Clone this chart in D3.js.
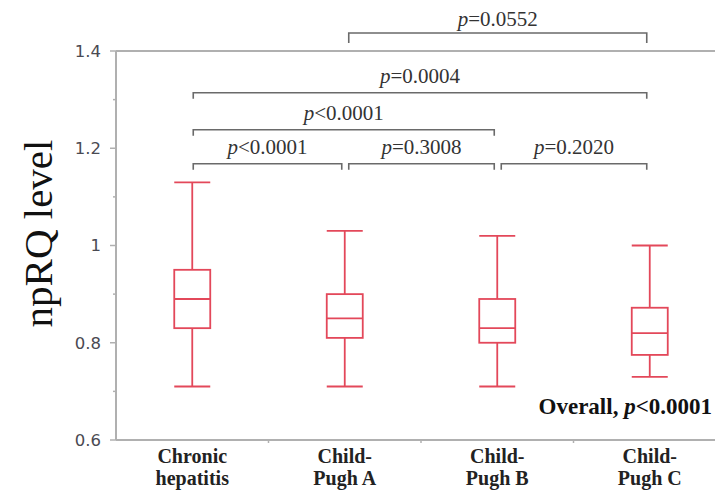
<!DOCTYPE html>
<html>
<head>
<meta charset="utf-8">
<script src="https://cdn.jsdelivr.net/npm/d3@7"></script>
<style>
  body { margin: 0; background: #fff; }
  svg { display: block; }
  .serif { font-family: "Liberation Serif", "DejaVu Serif", serif; }
</style>
</head>
<body>
<svg id="chart"></svg>
<script>
// groups and box statistics
const categories = ["Chronic hepatitis", "Child-Pugh A", "Child-Pugh B", "Child-Pugh C"];
const labelLines = [["Chronic", "hepatitis"], ["Child-", "Pugh A"], ["Child-", "Pugh B"], ["Child-", "Pugh C"]];
const whiskerLow = [0.71, 0.71, 0.71, 0.73];
const q1 = [0.83, 0.81, 0.80, 0.775];
const median = [0.89, 0.85, 0.83, 0.82];
const q3 = [0.95, 0.90, 0.89, 0.872];
const whiskerHigh = [1.13, 1.03, 1.02, 1.00];

const yTicks = [0.6, 0.8, 1.0, 1.2, 1.4];
const yMinorTicks = [0.7, 0.9, 1.1, 1.3];

// significance brackets: from group, to group, level, label
const bracketFrom = [1, 0, 0, 0, 1, 2];
const bracketTo = [3, 3, 2, 1, 2, 3];
const bracketLevel = [1.437, 1.314, 1.238, 1.168, 1.168, 1.168];
const bracketOp = ["=", "=", "<", "<", "=", "="];
const bracketValue = ["0.0552", "0.0004", "0.0001", "0.0001", "0.3008", "0.2020"];

const W = 715, H = 494;
const plotLeft = 116, plotTop = 51, plotBottom = 440;

const svg = d3.select("#chart").attr("width", W).attr("height", H);

const x = d3.scaleBand().domain(categories).range([plotLeft, 726]);
const y = d3.scaleLinear().domain([0.6, 1.4]).range([plotBottom, plotTop]);

const red = "#e3485a";
const axisColor = "#b0b0b0";
const bracketColor = "#6a6a6a";

// axes
svg.append("line")
    .attr("x1", plotLeft).attr("x2", W)
    .attr("y1", y(1.4)).attr("y2", y(1.4))
    .attr("stroke", axisColor).attr("stroke-width", 2);
svg.append("line")
    .attr("x1", plotLeft).attr("x2", W)
    .attr("y1", y(0.6)).attr("y2", y(0.6))
    .attr("stroke", axisColor).attr("stroke-width", 2);
svg.append("line")
    .attr("x1", plotLeft).attr("x2", plotLeft)
    .attr("y1", y(1.4)).attr("y2", y(0.6))
    .attr("stroke", axisColor).attr("stroke-width", 2);

svg.selectAll(".ytick")
    .data(yTicks)
    .enter()
    .append("line")
    .attr("x1", plotLeft - 6).attr("x2", plotLeft)
    .attr("y1", d => y(d)).attr("y2", d => y(d))
    .attr("stroke", axisColor).attr("stroke-width", 1.5);

svg.selectAll(".yminor")
    .data(yMinorTicks)
    .enter()
    .append("line")
    .attr("x1", plotLeft - 3).attr("x2", plotLeft)
    .attr("y1", d => y(d)).attr("y2", d => y(d))
    .attr("stroke", axisColor).attr("stroke-width", 1.5);

svg.selectAll(".ylabel")
    .data(yTicks)
    .enter()
    .append("text")
    .attr("x", plotLeft - 15)
    .attr("y", d => y(d))
    .attr("dy", "0.36em")
    .attr("text-anchor", "end")
    .attr("font-family", "DejaVu Sans, sans-serif")
    .attr("font-size", 16.5)
    .attr("fill", "#4a4a52")
    .text(d => d3.format("~g")(d));

// small ticks between groups on the bottom axis
svg.selectAll(".xtick")
    .data(categories.slice(1))
    .enter()
    .append("line")
    .attr("x1", d => x(d)).attr("x2", d => x(d))
    .attr("y1", y(0.6)).attr("y2", y(0.6) + 3)
    .attr("stroke", axisColor).attr("stroke-width", 1.5);

// y title
svg.append("text")
    .attr("class", "serif")
    .attr("transform", `translate(52,${(142 + 325) / 2}) rotate(-90)`)
    .attr("text-anchor", "middle")
    .attr("font-size", 41)
    .attr("fill", "#111")
    .text("npRQ level");

// category labels
const xl = svg.selectAll(".xlabel")
    .data(categories)
    .enter()
    .append("text")
    .attr("class", "serif")
    .attr("text-anchor", "middle")
    .attr("font-weight", "bold")
    .attr("font-size", 20)
    .attr("fill", "#222");
xl.selectAll("tspan")
    .data((d, i) => labelLines[i].map(t => ({ t, c: d })))
    .enter()
    .append("tspan")
    .attr("x", d => x(d.c) + x.bandwidth() / 2)
    .attr("y", (d, i) => 463 + i * 22)
    .text(d => d.t);

// boxes
const boxW = 36;
const box = svg.selectAll(".box")
    .data(categories)
    .enter()
    .append("g")
    .attr("class", "box")
    .attr("transform", d => `translate(${x(d) + x.bandwidth() / 2},0)`)
    .attr("stroke", red)
    .attr("stroke-width", 1.8)
    .attr("fill", "none");

box.append("line")
    .attr("x1", 0).attr("x2", 0)
    .attr("y1", (d, i) => y(whiskerHigh[i])).attr("y2", (d, i) => y(q3[i]));
box.append("line")
    .attr("x1", 0).attr("x2", 0)
    .attr("y1", (d, i) => y(q1[i])).attr("y2", (d, i) => y(whiskerLow[i]));
box.append("line")
    .attr("x1", -boxW / 2).attr("x2", boxW / 2)
    .attr("y1", (d, i) => y(whiskerHigh[i])).attr("y2", (d, i) => y(whiskerHigh[i]));
box.append("line")
    .attr("x1", -boxW / 2).attr("x2", boxW / 2)
    .attr("y1", (d, i) => y(whiskerLow[i])).attr("y2", (d, i) => y(whiskerLow[i]));
box.append("rect")
    .attr("x", -boxW / 2)
    .attr("width", boxW)
    .attr("y", (d, i) => y(q3[i]))
    .attr("height", (d, i) => y(q1[i]) - y(q3[i]));
box.append("line")
    .attr("x1", -boxW / 2).attr("x2", boxW / 2)
    .attr("y1", (d, i) => y(median[i])).attr("y2", (d, i) => y(median[i]));

// brackets (the one above the frame has longer legs)
const center = i => x(categories[i]) + x.bandwidth() / 2;
const brackets = bracketFrom.map((f, i) => ({
    x1: center(f) + (f > 0 ? 4 : 1),
    x2: center(bracketTo[i]) - 3,
    yv: bracketLevel[i],
    leg: bracketLevel[i] > 1.4 ? 10 : 6,
    gap: bracketLevel[i] > 1.4 ? 7 : 10,
    op: bracketOp[i],
    val: bracketValue[i]
}));

const br = svg.selectAll(".bracket")
    .data(brackets)
    .enter()
    .append("g")
    .attr("class", "bracket");

br.append("path")
    .attr("d", d => `M${d.x1},${y(d.yv) + d.leg}V${y(d.yv)}H${d.x2}V${y(d.yv) + d.leg}`)
    .attr("fill", "none")
    .attr("stroke", bracketColor)
    .attr("stroke-width", 1.6);

const pt = br.append("text")
    .attr("class", "serif")
    .attr("x", d => (d.x1 + d.x2) / 2)
    .attr("y", d => y(d.yv) - d.gap)
    .attr("text-anchor", "middle")
    .attr("font-size", 21)
    .attr("fill", "#333");
pt.append("tspan").attr("font-style", "italic").text("p");
pt.append("tspan").text(d => d.op + d.val);

// overall test
const ov = svg.append("text")
    .attr("class", "serif")
    .attr("x", 712)
    .attr("y", 414)
    .attr("text-anchor", "end")
    .attr("font-weight", "bold")
    .attr("font-size", 23)
    .attr("fill", "#111");
ov.append("tspan").text("Overall, ");
ov.append("tspan").attr("font-style", "italic").text("p");
ov.append("tspan").text("<0.0001");
</script>
</body>
</html>
